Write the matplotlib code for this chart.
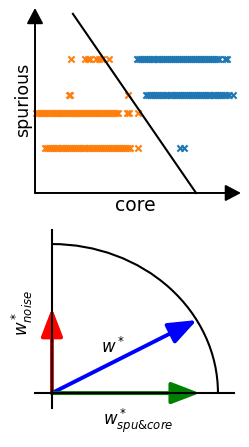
import numpy as np
import matplotlib
matplotlib.use("Agg")
from matplotlib import pyplot as plt
from matplotlib.patches import Arc, FancyArrowPatch

# top panel: core / spurious feature values (orange = class 0, blue = class 1)
orange_y1 = 7.24
orange_x1 = [1.75, 2.43, 2.57, 2.67, 2.96, 3.11, 3.25, 3.59]
orange_y2 = 5.30
orange_x2 = [1.65, 1.70, 4.51]
orange_y3 = 4.32
orange_x3 = [0.05, 0.13, 0.22, 0.30, 0.41, 0.50, 0.58, 0.69, 0.77, 0.86, 0.95,
             1.06, 1.14, 1.23, 1.33, 1.41, 1.52, 1.60, 1.70, 1.78, 1.88, 1.97,
             2.06, 2.15, 2.24, 2.35, 2.43, 2.52, 2.62, 2.71, 2.80, 2.90, 2.98,
             3.08, 3.17, 3.27, 3.36, 3.46, 3.55, 3.65, 3.74, 3.84, 3.93, 4.03,
             4.47, 4.56, 5.00]
orange_y4 = 2.43
orange_x4 = [0.49, 0.58, 0.67, 0.77, 0.86, 0.95, 1.05, 1.14, 1.24, 1.33, 1.42,
             1.52, 1.61, 1.70, 1.80, 1.89, 1.99, 2.08, 2.17, 2.27, 2.36, 2.45,
             2.55, 2.64, 2.74, 2.83, 2.92, 3.02, 3.11, 3.21, 3.30, 3.39, 3.49,
             3.58, 3.67, 3.77, 3.86, 3.96, 4.05, 4.14, 4.24, 4.33, 4.43, 4.52,
             4.62, 5.00]
blue_y1 = 7.24
blue_x1 = [4.95, 5.04, 5.14, 5.23, 5.33, 5.42, 5.52, 5.61, 5.71, 5.80, 5.90,
           5.99, 6.09, 6.18, 6.28, 6.37, 6.47, 6.56, 6.66, 6.75, 6.85, 6.94,
           7.04, 7.13, 7.23, 7.32, 7.42, 7.51, 7.61, 7.70, 7.80, 7.89, 7.99,
           8.08, 8.18, 8.27, 8.37, 8.46, 8.56, 8.65, 8.75, 8.84, 8.94, 9.22,
           9.32]
blue_y2 = 5.30
blue_x2 = [5.39, 5.48, 5.58, 5.67, 5.77, 5.86, 5.96, 6.05, 6.15, 6.24, 6.34,
           6.43, 6.53, 6.62, 6.72, 6.81, 6.91, 7.00, 7.10, 7.19, 7.29, 7.38,
           7.48, 7.57, 7.67, 7.76, 7.86, 7.95, 8.05, 8.14, 8.24, 8.33, 8.43,
           8.52, 8.62, 8.71, 8.81, 8.90, 9.00, 9.09, 9.19, 9.28, 9.40, 9.61]
blue_y3 = 2.43
blue_x3 = [7.04, 7.23]

# decision boundary end points
boundary_x = [1.84, 7.82]
boundary_y = [9.68, 0.0]

# bottom panel: weight vectors (unit circle)
w_noise = (0.0, 0.57)
w_star = (0.873, 0.49)
w_spu_core = (0.89, 0.0)

fig = plt.figure(figsize=(2.49, 4.47), dpi=100)

# ---- top panel ----
ax = fig.add_axes([0, 232 / 447, 1, 215 / 447])
ax.set_xlim(-1.70, 10.39)
ax.set_ylim(-1.19, 10.43)
ax.axis("off")

orange = "#ff7f0e"
blue = "#1f77b4"
kw = dict(marker="x", s=20, linewidths=1.5)
for xs, y in [(orange_x1, orange_y1), (orange_x2, orange_y2),
              (orange_x3, orange_y3), (orange_x4, orange_y4)]:
    ax.scatter(xs, [y] * len(xs), color=orange, **kw)
for xs, y in [(blue_x1, blue_y1), (blue_x2, blue_y2), (blue_x3, blue_y3)]:
    ax.scatter(xs, [y] * len(xs), color=blue, **kw)

ax.plot(boundary_x, boundary_y, color="black", lw=1.5)

for end in [(0, 10), (10, 0)]:
    ax.add_patch(FancyArrowPatch((0, 0), end, arrowstyle="-|>,head_length=0.95,head_width=0.5",
                                 mutation_scale=10, color="black", lw=1.4,
                                 shrinkA=0, shrinkB=0))

ax.text(-0.58, 5.03, "spurious", rotation=90, ha="center", va="center", fontsize=12.5)
ax.text(4.85, -0.68, "core", ha="center", va="center", fontsize=13.5)

# ---- bottom panel ----
bx = fig.add_axes([0, 0, 1, 232 / 447])
bx.set_xlim(-0.313, 1.187)
bx.set_ylim(-0.362, 1.195)
bx.axis("off")

bx.plot([0, 0], [-0.10, 1.094], color="black", lw=1.5)
bx.plot([-0.102, 1.096], [0, 0], color="black", lw=1.5)
bx.add_patch(Arc((0, 0), 2, 2, theta1=0, theta2=90, color="black", lw=1.5))

for vec, col in [(w_noise, "red"), (w_star, "blue"), (w_spu_core, "green")]:
    bx.add_patch(FancyArrowPatch((0, 0), vec, arrowstyle="-|>,head_length=0.86,head_width=0.33",
                                 mutation_scale=20, color=col, lw=2.8,
                                 shrinkA=0, shrinkB=0))

bx.text(-0.18, 0.54, r"$w^*_{noise}$", rotation=90, ha="center", va="center", fontsize=12)
bx.text(0.37, 0.31, r"$w^*$", ha="center", va="center", fontsize=12)
bx.text(0.518, -0.188, r"$w^*_{spu&core}$", ha="center", va="center", fontsize=12)

fig.savefig("out.png", dpi=100)
